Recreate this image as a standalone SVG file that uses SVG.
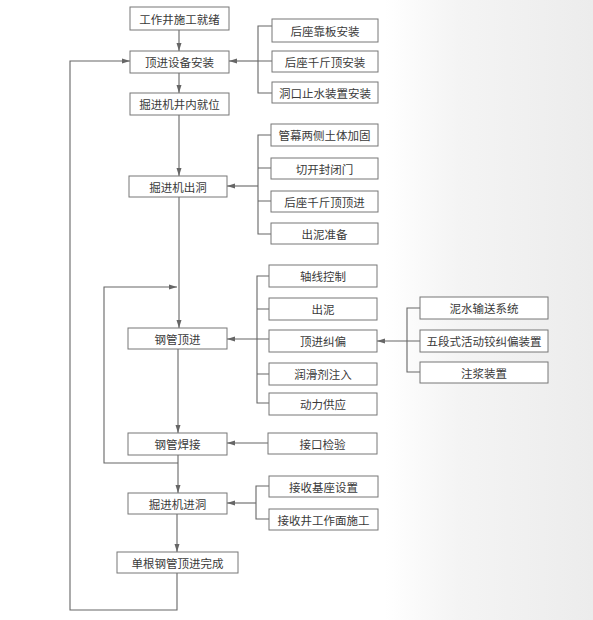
<svg xmlns="http://www.w3.org/2000/svg" width="593" height="620" viewBox="0 0 593 620">
<defs>
<marker id="ah" markerWidth="8" markerHeight="6" refX="8" refY="3" orient="auto" markerUnits="userSpaceOnUse">
<path d="M0,0.5 L8,3 L0,5.5 Z" fill="#666"/>
</marker>
<linearGradient id="bg" x1="0" x2="1" y1="0" y2="0">
<stop offset="0" stop-color="#ffffff"/>
<stop offset="0.35" stop-color="#f4f4f4"/>
<stop offset="1" stop-color="#ececec"/>
</linearGradient>
</defs>
<style>
rect.b{fill:#fff;stroke:#777;stroke-width:1}
text{font-family:"Noto Sans CJK SC","Noto Sans",sans-serif;font-size:11.5px;fill:#3a3a3a;text-anchor:middle;dominant-baseline:central}
.c path{fill:none;stroke:#666;stroke-width:1.1}
.c path.a{marker-end:url(#ah)}
</style>
<rect width="593" height="620" fill="#fff"/>
<rect x="385" y="0" width="208" height="620" fill="url(#bg)"/>

<g class="c">
<path class="a" d="M179,30 V51"/>
<path class="a" d="M179,73 V93"/>
<path class="a" d="M179,115 V176"/>
<path class="a" d="M179,197 V328"/>
<path class="a" d="M178,349 V433"/>
<path class="a" d="M178,455 V493"/>
<path class="a" d="M177,514 V552"/>
<path class="a" d="M177,573 V610 H70 V61 H130"/>
<path class="a" d="M178,463 H104 V287 H177"/>
<path d="M272,26 H258 V93 H272 M258,61 H272"/>
<path class="a" d="M258,61 H229"/>
<path d="M271,135 H258 V234 H271 M258,168 H271 M258,201 H271"/>
<path class="a" d="M258,186 H227"/>
<path d="M269,276 H257 V403 H269 M257,309 H269 M257,374 H269"/>
<path class="a" d="M269,339 H227"/>
<path d="M420,308 H407 V372 H420"/>
<path class="a" d="M420,341 H377"/>
<path class="a" d="M268,443 H227"/>
<path d="M269,486 H256 V519 H269"/>
<path class="a" d="M256,503 H227"/>
</g>

<g id="n1"><rect class="b" x="130" y="7" width="99" height="23"/><text x="179.5" y="18.5">工作井施工就绪</text></g>
<g id="n2"><rect class="b" x="130" y="51" width="99" height="22"/><text x="179.5" y="62">顶进设备安装</text></g>
<g id="n3"><rect class="b" x="130" y="93" width="99" height="22"/><text x="179.5" y="104">掘进机井内就位</text></g>
<g id="n4"><rect class="b" x="129" y="176" width="98" height="21"/><text x="178" y="186.5">掘进机出洞</text></g>
<g id="n5"><rect class="b" x="128" y="328" width="99" height="21"/><text x="177.5" y="338.5">钢管顶进</text></g>
<g id="n6"><rect class="b" x="128" y="433" width="99" height="22"/><text x="177.5" y="444">钢管焊接</text></g>
<g id="n7"><rect class="b" x="128" y="493" width="99" height="21"/><text x="177.5" y="503.5">掘进机进洞</text></g>
<g id="n8"><rect class="b" x="117" y="552" width="121" height="21"/><text x="177.5" y="562.5">单根钢管顶进完成</text></g>

<g id="r1"><rect class="b" x="272" y="19" width="106" height="23"/><text x="325" y="30.5">后座靠板安装</text></g>
<g id="r2"><rect class="b" x="272" y="51" width="106" height="21"/><text x="325" y="61.5">后座千斤顶安装</text></g>
<g id="r3"><rect class="b" x="272" y="82" width="106" height="21"/><text x="325" y="92.5">洞口止水装置安装</text></g>
<g id="r4"><rect class="b" x="271" y="124" width="107" height="22"/><text x="324.5" y="135">管幕两侧土体加固</text></g>
<g id="r5"><rect class="b" x="271" y="158" width="107" height="21"/><text x="324.5" y="168.5">切开封闭门</text></g>
<g id="r6"><rect class="b" x="271" y="191" width="107" height="21"/><text x="324.5" y="201.5">后座千斤顶顶进</text></g>
<g id="r7"><rect class="b" x="271" y="223" width="107" height="21"/><text x="324.5" y="233.5">出泥准备</text></g>
<g id="r8"><rect class="b" x="269" y="265" width="108" height="22"/><text x="323" y="276">轴线控制</text></g>
<g id="r9"><rect class="b" x="269" y="298" width="108" height="22"/><text x="323" y="309">出泥</text></g>
<g id="r10"><rect class="b" x="269" y="330" width="108" height="22"/><text x="323" y="341">顶进纠偏</text></g>
<g id="r11"><rect class="b" x="269" y="363" width="108" height="22"/><text x="323" y="374">润滑剂注入</text></g>
<g id="r12"><rect class="b" x="269" y="393" width="108" height="22"/><text x="323" y="404">动力供应</text></g>
<g id="r13"><rect class="b" x="268" y="433" width="109" height="21"/><text x="322.5" y="443.5">接口检验</text></g>
<g id="r14"><rect class="b" x="269" y="476" width="109" height="21"/><text x="323.5" y="486.5">接收基座设置</text></g>
<g id="r15"><rect class="b" x="269" y="509" width="109" height="21"/><text x="323.5" y="519.5">接收井工作面施工</text></g>
<g id="s1"><rect class="b" x="420" y="297" width="128" height="22"/><text x="484" y="308">泥水输送系统</text></g>
<g id="s2"><rect class="b" x="420" y="330" width="128" height="22"/><text x="484" y="341">五段式活动铰纠偏装置</text></g>
<g id="s3"><rect class="b" x="420" y="362" width="128" height="21"/><text x="484" y="372.5">注浆装置</text></g>
</svg>
